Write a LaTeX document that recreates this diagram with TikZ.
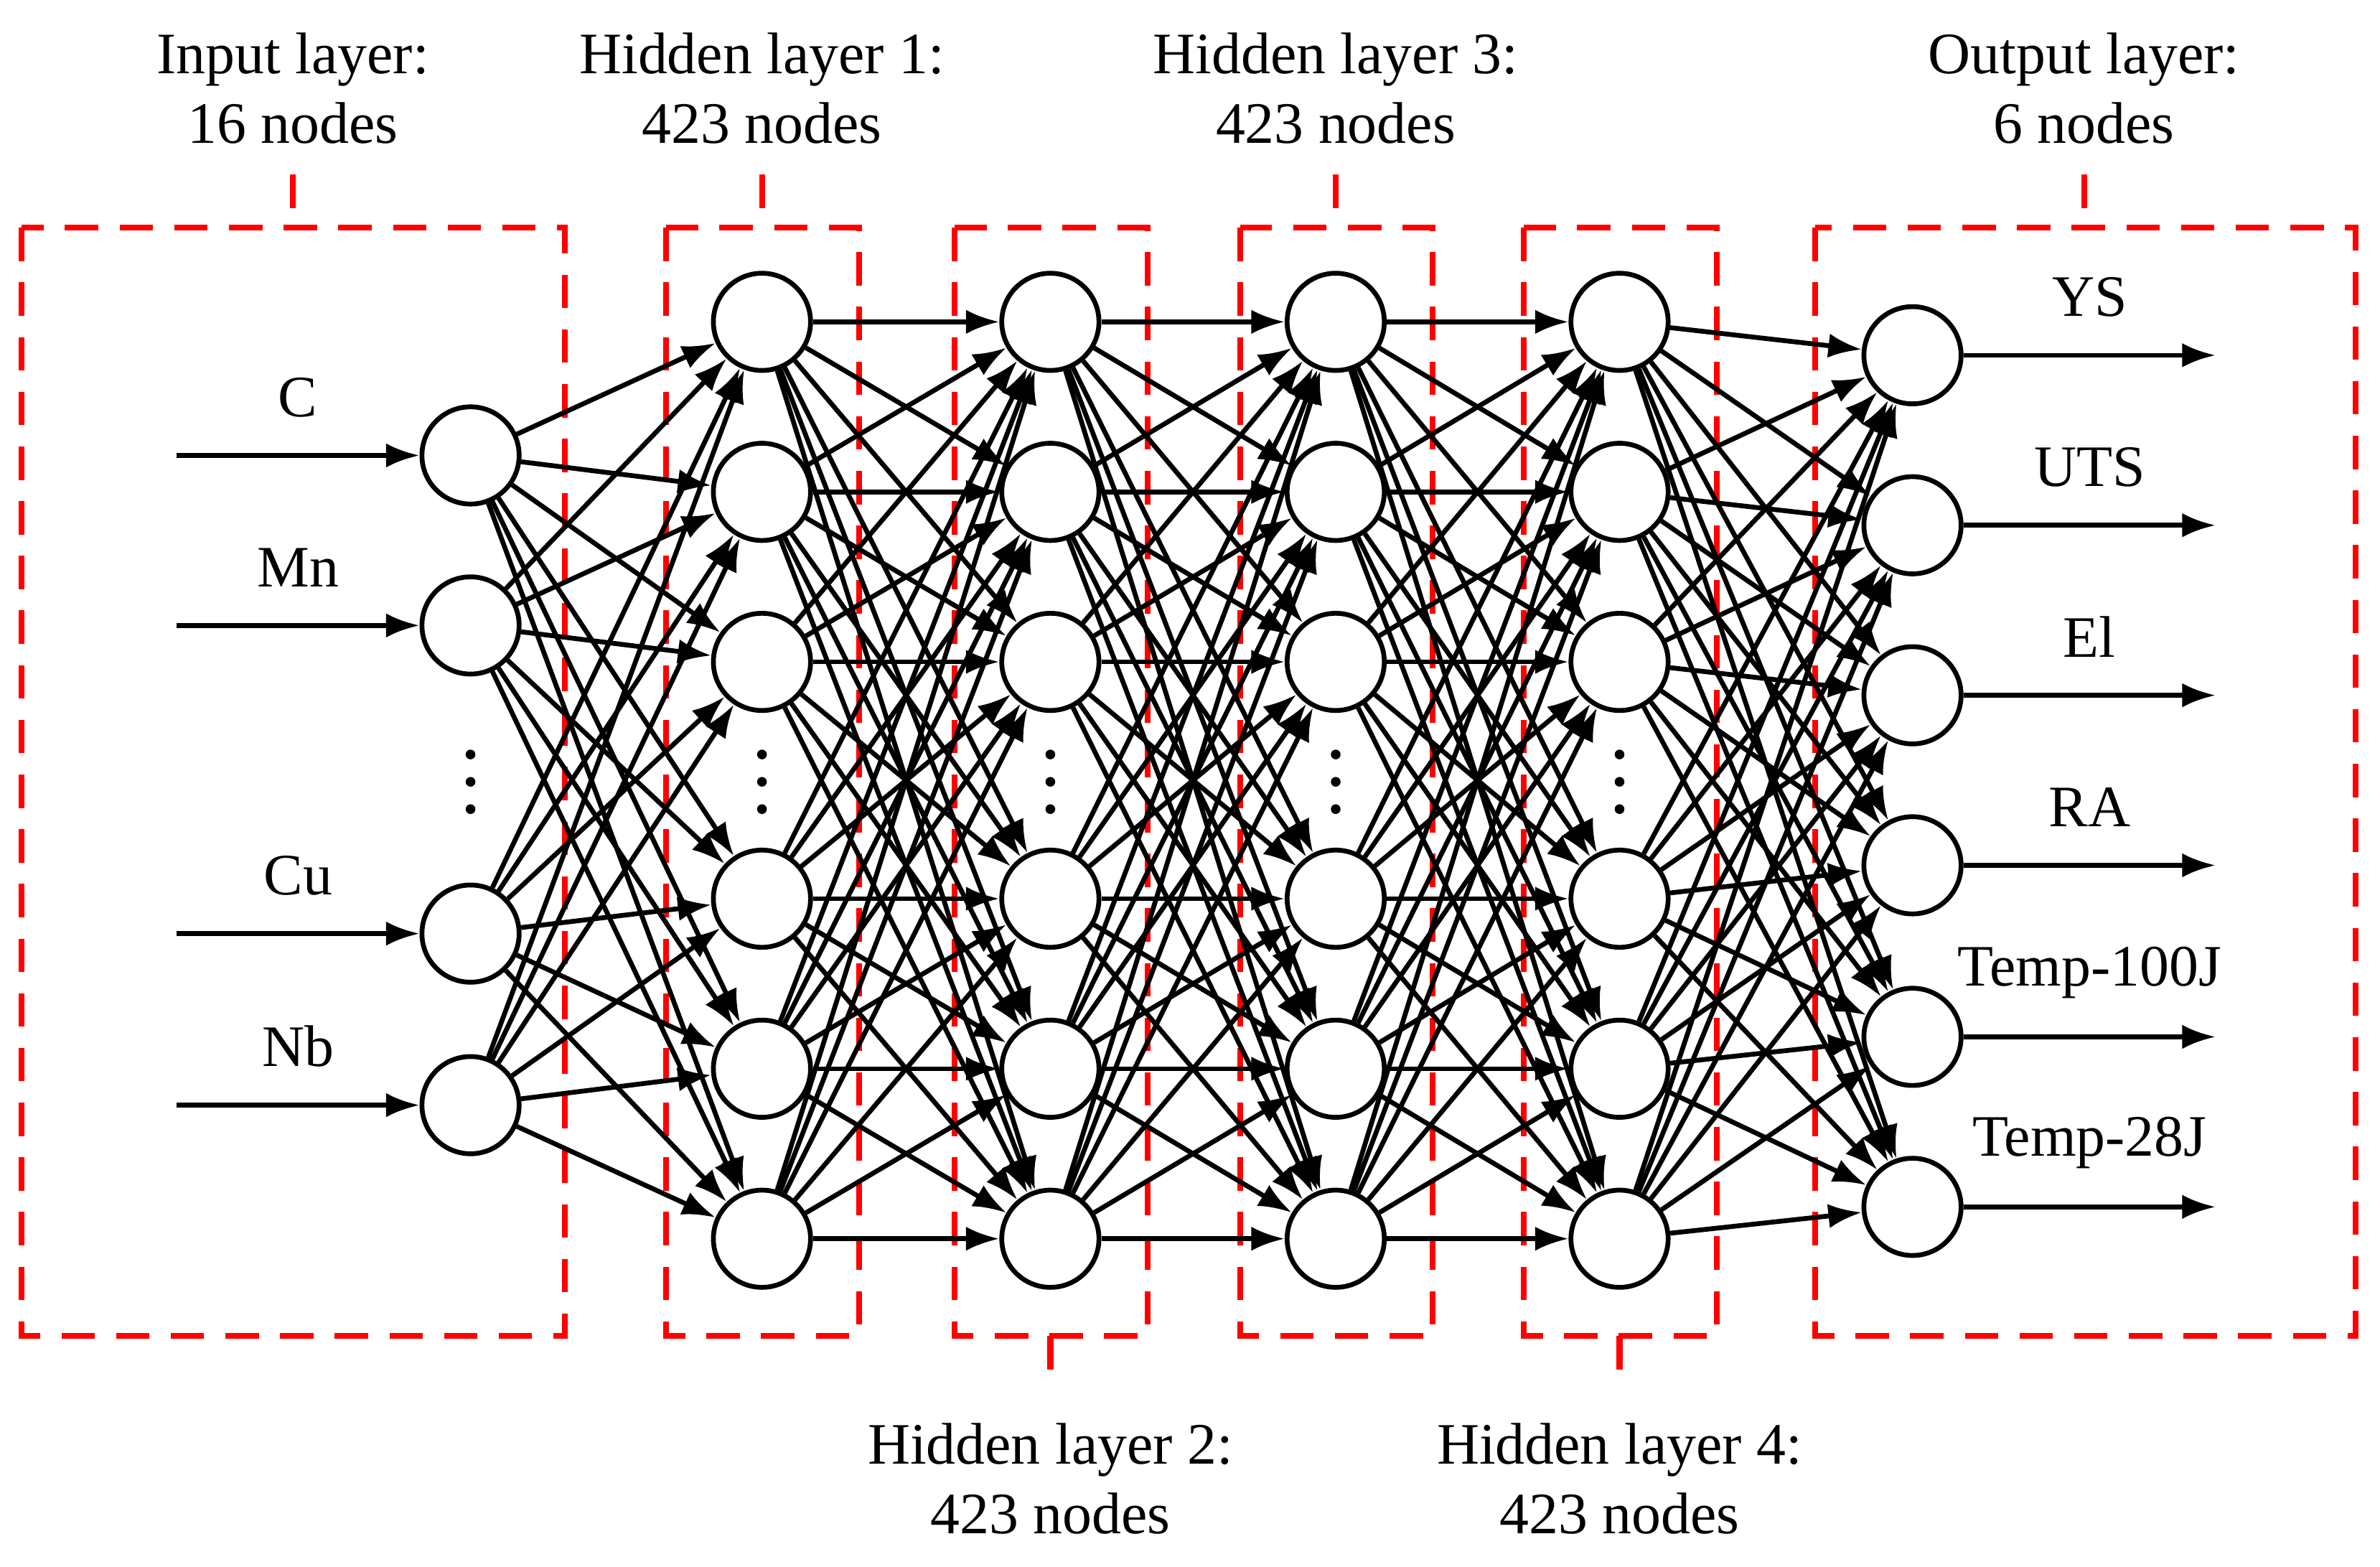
\documentclass[tikz,border=0pt]{standalone}
\usepackage{fontspec}
\setmainfont{Liberation Serif}
\usetikzlibrary{arrows.meta}
\tikzset{
  neuron/.style={circle, draw, line width=0.9pt, minimum size=0.64cm, inner sep=0pt, fill=white},
  conn/.style={line width=0.9pt, -{Latex[length=2.2mm,width=1.6mm]}},
  layerbox/.style={red, dashed, line width=1.1pt, dash pattern=on 2.2mm off 1.4mm},
  lbl/.style={font=\fontsize{11}{13}\selectfont, align=center}
}
\begin{document}
\begin{tikzpicture}[x=0.01cm, y=-0.01cm]
			\useasboundingbox (0,0) rectangle (1568,1032);
			% Layer boxes
			\draw[layerbox] (14,150) rectangle (372,880);
			\foreach \x in {502,692,880,1067}
				\draw[layerbox] (\x-63,150) rectangle (\x+64,880);
			\draw[layerbox] (1196,150) rectangle (1552,880);

			% Input layer
			\foreach \y [count=\i] in {300,412,615,728}
				\node[neuron] (i\i) at (310,\y) {};
			% Hidden layers
			\foreach \x [count=\l] in {502,692,880,1067}
				\foreach \y [count=\i] in {212,324,436,592,704,816}
					\node[neuron] (h\l-\i) at (\x,\y) {};
			% Output layer
			\foreach \y [count=\i] in {234,346,458,570,683,795}
				\node[neuron] (o\i) at (1260,\y) {};

			% Vertical dots
			\foreach \x in {310,502,692,880,1067}
				\foreach \d in {-18,0,18}
					\fill (\x,515+\d) circle (3.2);

			% Connections
			\foreach \a in {1,...,4}
				\foreach \b in {1,...,6}
					\draw[conn] (i\a) -- (h1-\b);
			\foreach \l/\m in {1/2,2/3,3/4}
				\foreach \a in {1,...,6}
					\foreach \b in {1,...,6}
						\draw[conn] (h\l-\a) -- (h\m-\b);
			\foreach \a in {1,...,6}
				\foreach \b in {1,...,6}
					\draw[conn] (h4-\a) -- (o\b);

			% Inputs
			\foreach \n/\t in {1/C,2/Mn,3/Cu,4/Nb} {
				\coordinate (in\n) at ([xshift=-1.6cm]i\n.west);
				\draw[conn] (in\n) -- (i\n) node[lbl, midway, above=0.12cm] {\t};
			}
			% Outputs
			\foreach \n/\t in {1/YS,2/UTS,3/El,4/RA,5/Temp-100J,6/Temp-28J} {
				\coordinate (out\n) at ([xshift=1.66cm]o\n.east);
				\draw[conn] (o\n) -- (out\n) node[lbl, pos=0.5, above=0.12cm] {\t};
			}

			% Layer labels
			\node[lbl] (ltop1) at (193,58) {Input layer:\\16 nodes};
			\node[lbl] (ltop2) at (502,58) {Hidden layer 1:\\423 nodes};
			\node[lbl] (ltop3) at (880,58) {Hidden layer 3:\\423 nodes};
			\node[lbl] (ltop4) at (1373,58) {Output layer:\\6 nodes};
			\node[lbl] (lbot1) at (692,974) {Hidden layer 2:\\423 nodes};
			\node[lbl] (lbot2) at (1067,974) {Hidden layer 4:\\423 nodes};
			\foreach \x in {193,502,880,1373}
				\draw[layerbox] (\x,115) -- (\x,150);
			\foreach \x in {692,1067}
				\draw[layerbox] (\x,880) -- (\x,915);
		\end{tikzpicture}
\end{document}
